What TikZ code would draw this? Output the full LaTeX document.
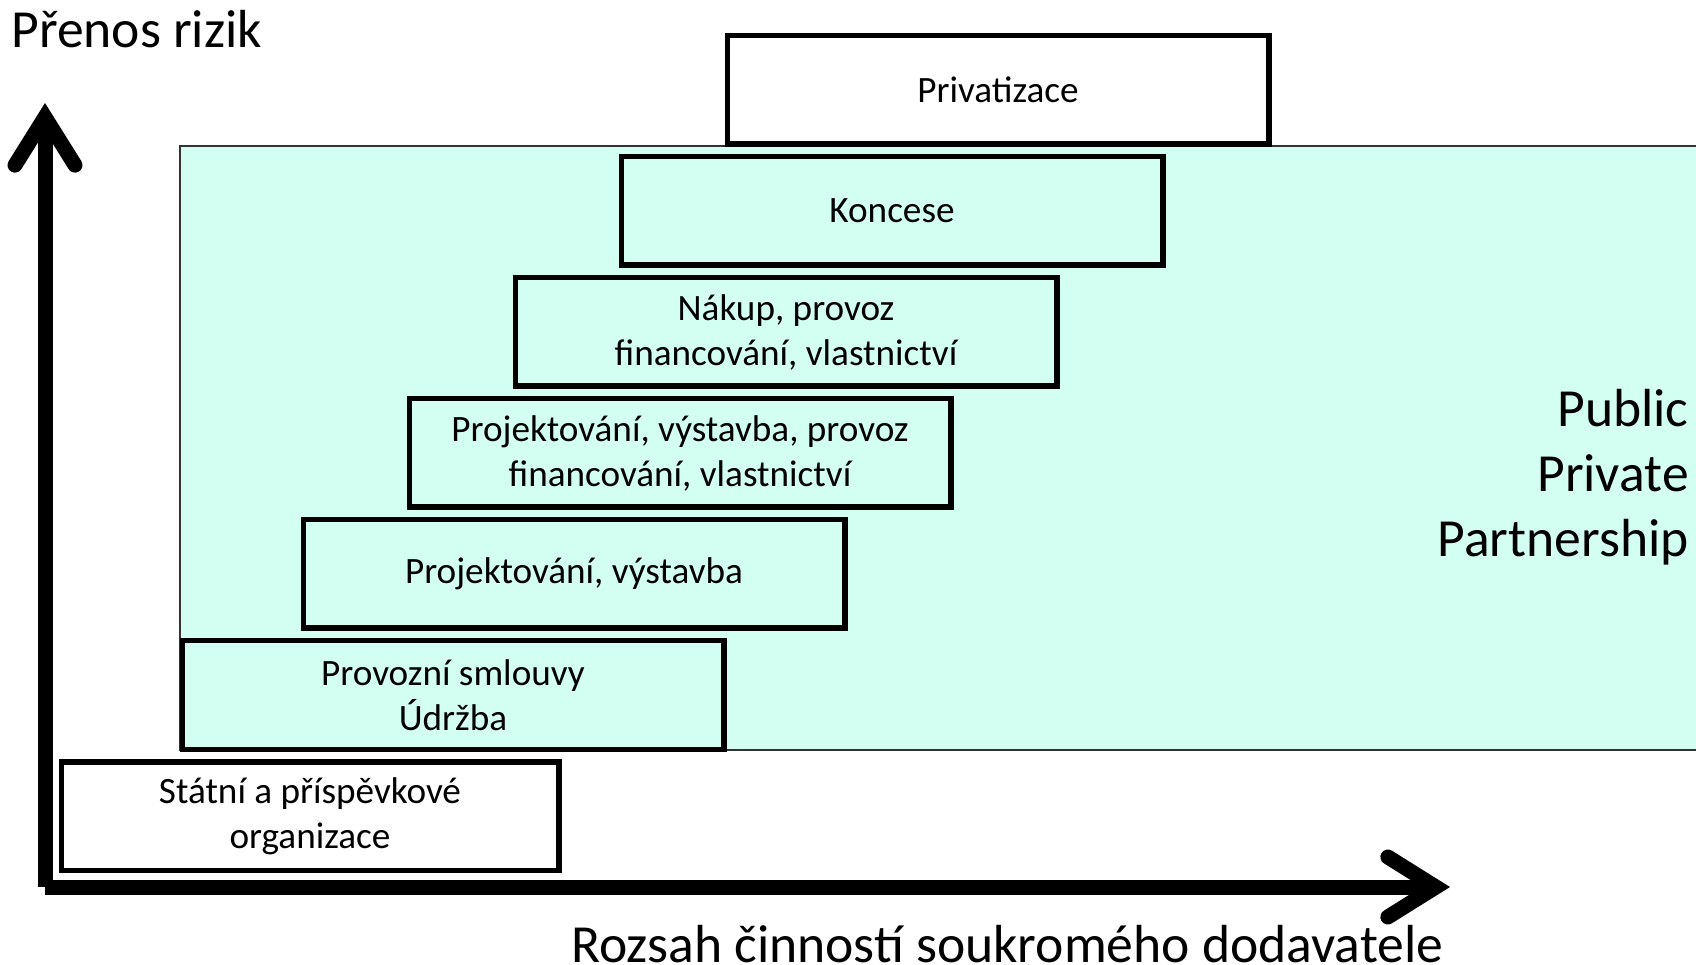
\documentclass[tikz,border=0pt]{standalone}
\usepackage{fontspec}
\setmainfont{Carlito}
\usetikzlibrary{positioning,arrows.meta}
\definecolor{pppcyan}{RGB}{211,255,243}

\begin{document}
\begin{tikzpicture}[x=0.5pt, y=0.5pt,
  stage/.style={draw, line width=2.75pt, fill=pppcyan, align=center, inner sep=0pt,
    minimum width=270.75pt, minimum height=54.25pt, font=\fontsize{18.6}{22.5}\selectfont},
  axis/.style={line width=7.5pt, -{Straight Barb[length=24pt, width=30pt, line cap=round, line join=miter]}},
  axislabel/.style={inner sep=0pt, font=\fontsize{26.8}{32.5}\selectfont}]
\useasboundingbox (0,0) rectangle (1696,964);
% PPP background
\draw[black!80, line width=1pt, fill=pppcyan] (180,214) rectangle (1700,818);
\node[stage, fill=white, minimum width=248.75pt] (statni) at (310,148) {Státní a příspěvkové\\organizace};
\node[stage, above=3.5pt of statni, xshift=71.5pt] (provoz) {Provozní smlouvy\\Údržba};
\node[stage, above=3.5pt of provoz, xshift=60.5pt] (projvyst) {Projektování, výstavba};
\node[stage, above=3.5pt of projvyst, xshift=53pt] (projfin) {Projektování, výstavba, provoz\\financování, vlastnictví};
\node[stage, above=3.5pt of projfin, xshift=53pt] (nakup) {Nákup, provoz\\financování, vlastnictví};
\node[stage, above=3.5pt of nakup, xshift=53pt] (koncese) {Koncese};
\node[stage, fill=white, above=3.5pt of koncese, xshift=53pt] (privat) {Privatizace};
% axes
\coordinate (origin) at (45,77);
\coordinate (ytip) at (45,861);
\coordinate (xtip) at (1450,77);
\draw[axis] (origin) -- (ytip);
\draw[axis] (origin) -- (xtip);
\node[axislabel, anchor=base west] (risk) at (11,916) {Přenos rizik};
\node[axislabel, anchor=base west] (scope) at (571,2) {Rozsah činností soukromého dodavatele};
\node[axislabel, align=right, anchor=base east] (ppp) at (1689,407) {Public\\Private\\Partnership};
\end{tikzpicture}
\end{document}
